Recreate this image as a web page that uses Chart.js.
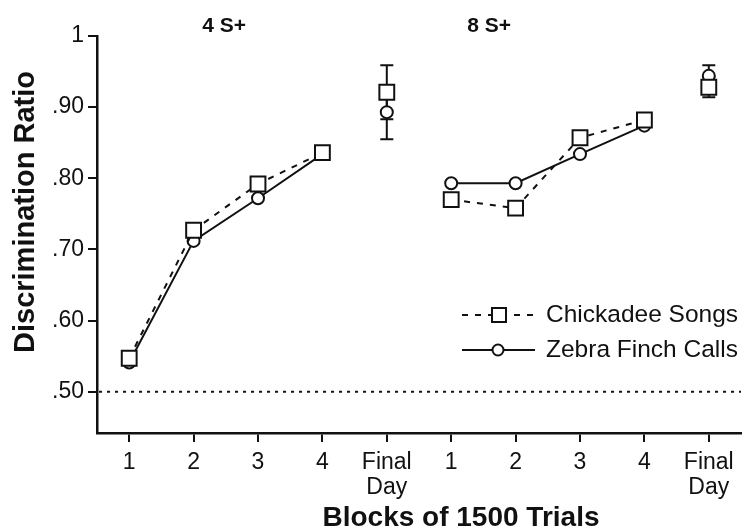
<!DOCTYPE html>
<html>
<head>
<meta charset="utf-8">
<script src="https://cdn.jsdelivr.net/npm/chart.js@4.4.1/dist/chart.umd.min.js"></script>
<style>
  html, body { margin: 0; padding: 0; background: #fff; }
  #wrap { width: 742px; height: 532px; }
</style>
</head>
<body>
<div id="wrap"><canvas id="c" width="742" height="532"></canvas></div>
<script>
// ---- data ----
const categories = ['1', '2', '3', '4', ['Final', 'Day'], '1', '2', '3', '4', ['Final', 'Day']];
const panelTitles = ['4 S+', '8 S+'];
const seriesNames = ['Chickadee Songs', 'Zebra Finch Calls'];
const chickadeeBlocks = [0.547, 0.727, 0.792, 0.836, null, 0.770, 0.758, 0.857, 0.882, null];
const zebraBlocks     = [0.541, 0.712, 0.772, 0.834, null, 0.793, 0.793, 0.834, 0.874, null];
const chickadeeFinal  = [null, null, null, null, 0.921, null, null, null, null, 0.928];
const zebraFinal      = [null, null, null, null, 0.893, null, null, null, null, 0.944];
const chickadeeErr    = [null, null, null, null, 0.038, null, null, null, null, 0.014];
const zebraErr        = [null, null, null, null, 0.038, null, null, null, null, 0.015];
const yTicks = [0.5, 0.6, 0.7, 0.8, 0.9, 1];
const chanceLevel = 0.5;

// ---- styles ----
const INK = '#111';
const FONT = "'Liberation Sans', Arial, Helvetica, sans-serif";
const DASH = [6, 7];

const decor = {
  id: 'decor',
  beforeDatasetsDraw(chart) {
    const { ctx, chartArea, scales: { x, y } } = chart;
    ctx.save();
    ctx.strokeStyle = INK;
    ctx.lineWidth = 2;
    ctx.setLineDash([3, 5]);
    const yc = y.getPixelForValue(chanceLevel);
    ctx.beginPath();
    ctx.moveTo(chartArea.left + 2, yc);
    ctx.lineTo(chartArea.right, yc);
    ctx.stroke();
    ctx.setLineDash([]);
    const pairs = [[chickadeeFinal, chickadeeErr], [zebraFinal, zebraErr]];
    pairs.forEach(([vals, errs]) => {
      vals.forEach((v, i) => {
        if (v == null || errs[i] == null) return;
        const px = x.getPixelForValue(i);
        const t = y.getPixelForValue(v + errs[i]);
        const b = y.getPixelForValue(v - errs[i]);
        ctx.beginPath();
        ctx.moveTo(px, t); ctx.lineTo(px, b);
        ctx.moveTo(px - 6.5, t); ctx.lineTo(px + 6.5, t);
        ctx.moveTo(px - 6.5, b); ctx.lineTo(px + 6.5, b);
        ctx.stroke();
      });
    });
    ctx.restore();
  },
  afterDraw(chart) {
    const { ctx, scales: { x } } = chart;
    ctx.save();
    ctx.fillStyle = INK;
    ctx.strokeStyle = INK;
    ctx.font = 'bold 21px ' + FONT;
    ctx.textAlign = 'center';
    ctx.textBaseline = 'middle';
    const titleIdx = [1.475, 5.59];
    titleIdx.forEach((idx, k) => {
      const p0 = x.getPixelForValue(Math.floor(idx));
      const p1 = x.getPixelForValue(Math.floor(idx) + 1);
      const px = p0 + (p1 - p0) * (idx - Math.floor(idx));
      ctx.fillText(panelTitles[k], px, 26);
    });
    ctx.font = 'bold 28px ' + FONT;
    ctx.fillText('Blocks of 1500 Trials', 461, 518);
    ctx.save();
    ctx.translate(26, 212);
    ctx.rotate(-Math.PI / 2);
    ctx.font = 'bold 29px ' + FONT;
    ctx.fillText('Discrimination Ratio', 0, 0);
    ctx.restore();
    ctx.lineWidth = 2;
    const rows = [315, 350];
    ctx.setLineDash(DASH);
    ctx.beginPath(); ctx.moveTo(462, rows[0]); ctx.lineTo(537, rows[0]); ctx.stroke();
    ctx.setLineDash([]);
    ctx.fillStyle = '#fff';
    ctx.fillRect(492, rows[0] - 7, 14, 14);
    ctx.strokeRect(492, rows[0] - 7, 14, 14);
    ctx.beginPath(); ctx.moveTo(462, rows[1]); ctx.lineTo(535, rows[1]); ctx.stroke();
    ctx.beginPath(); ctx.arc(498, rows[1], 5.5, 0, Math.PI * 2);
    ctx.fill(); ctx.stroke();
    ctx.fillStyle = INK;
    ctx.font = '24.5px ' + FONT;
    ctx.textAlign = 'left';
    ctx.fillText(seriesNames[0], 546, rows[0]);
    ctx.fillText(seriesNames[1], 546, rows[1]);
    ctx.restore();
  }
};

const common = {
  borderColor: INK,
  backgroundColor: '#fff',
  pointBackgroundColor: '#fff',
  pointBorderColor: INK,
  pointBorderWidth: 2,
  borderWidth: 2,
  spanGaps: false,
  tension: 0,
  fill: false
};

new Chart(document.getElementById('c'), {
  type: 'line',
  data: {
    labels: categories,
    datasets: [
      Object.assign({}, common, { label: seriesNames[0], data: chickadeeBlocks, borderDash: DASH, pointStyle: 'rect', pointRadius: 10.5, pointHoverRadius: 10.5 }),
      Object.assign({}, common, { label: seriesNames[0] + ' final', data: chickadeeFinal, showLine: false, pointStyle: 'rect', pointRadius: 10.5, pointHoverRadius: 10.5 }),
      Object.assign({}, common, { label: seriesNames[1], data: zebraBlocks, pointStyle: 'circle', pointRadius: 6, pointHoverRadius: 6 }),
      Object.assign({}, common, { label: seriesNames[1] + ' final', data: zebraFinal, showLine: false, pointStyle: 'circle', pointRadius: 6, pointHoverRadius: 6 })
    ]
  },
  options: {
    responsive: false,
    devicePixelRatio: 1,
    animation: false,
    layout: { autoPadding: false, padding: { top: 36, right: 1, left: 0, bottom: 0 } },
    plugins: { legend: { display: false }, tooltip: { enabled: false }, title: { display: false } },
    scales: {
      x: {
        type: 'category',
        offset: true,
        grid: { display: true, drawOnChartArea: false, drawTicks: true, tickLength: 9, color: INK, lineWidth: 2 },
        border: { display: true, color: INK, width: 2.5 },
        ticks: { color: INK, font: { family: FONT, size: 23, lineHeight: 1.1 }, padding: 8, maxRotation: 0, autoSkip: false },
        afterFit: s => { s.height = 99; }
      },
      y: {
        min: 0.442,
        max: 1,
        afterBuildTicks: s => { s.ticks = yTicks.map(v => ({ value: v })); },
        grid: { display: true, drawOnChartArea: false, drawTicks: true, tickLength: 9, color: INK, lineWidth: 2 },
        border: { display: true, color: INK, width: 2.5 },
        ticks: {
          color: INK,
          font: { family: FONT, size: 23 },
          padding: 4,
          callback: v => (v === 1 ? '1' : v.toFixed(2).replace(/^0/, ''))
        },
        afterFit: s => { s.width = 97; }
      }
    }
  },
  plugins: [decor]
});
</script>
</body>
</html>
